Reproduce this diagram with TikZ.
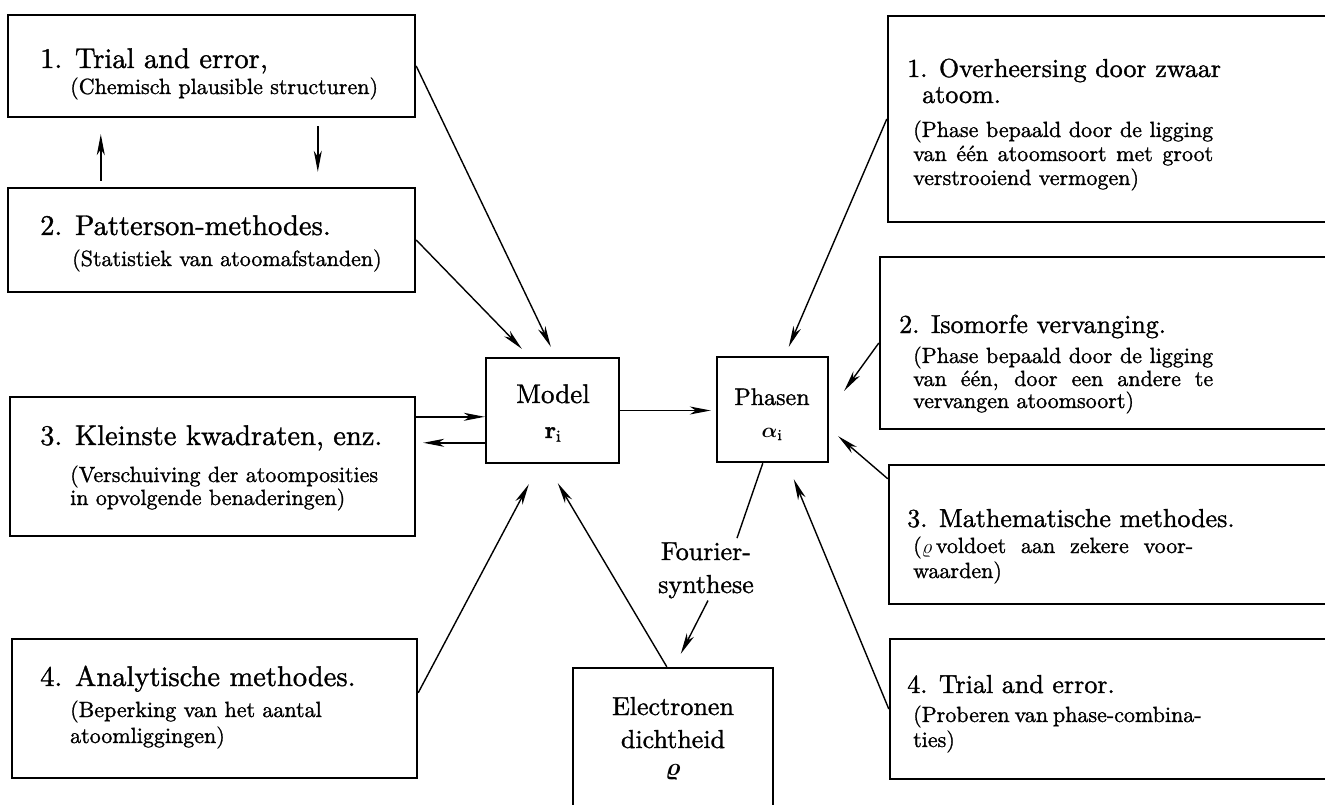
\documentclass[tikz,border=0pt]{standalone}
\usepackage{bm}
\usepackage{fontspec}
\setmainfont{lmroman10-regular.otf}[BoldFont=lmroman10-bold.otf,ItalicFont=lmroman10-italic.otf,FakeBold=1.2]
\usetikzlibrary{arrows.meta,fit}
\tikzset{
  box/.style={draw, line width=2.4pt, inner sep=0pt},
  conn/.style={line width=1.4pt, -{Stealth[length=21pt,width=8pt,inset=6pt]}},
  plainline/.style={line width=1.4pt},
  head/.style={anchor=base west, inner sep=0pt, font=\fontsize{28.5}{32}\selectfont},
  rhead/.style={anchor=base west, inner sep=0pt, font=\fontsize{26}{30}\selectfont},
  subtxt/.style={anchor=base west, inner sep=0pt, font=\fontsize{22}{25}\selectfont},
  ctr/.style={anchor=base, inner sep=0pt, font=\fontsize{26}{30}\selectfont},
}
\newcommand{\jl}[2]{\makebox[#1][s]{#2}}
\begin{document}
\begin{tikzpicture}[x=1pt,y=-1pt]
\useasboundingbox (0,0) rectangle (1325,805);
\clip (0,0) rectangle (1325,805);
\fill[white] (0,0) rectangle (1325,805);

% left boxes
\node[box, fit={(8,15)(415,117)}] (L1) {};
\node[box, fit={(8,188)(415,292)}] (L2) {};
\node[box, fit={(10,397)(415,536)}] (L3) {};
\node[box, fit={(12,639)(417,778)}] (L4) {};
% centre boxes
\node[box, fit={(486,358)(619,463)}] (M) {};
\node[box, fit={(717,357)(828,462)}] (P) {};
\node[box, fit={(573,668)(773,840)}] (E) {};
% right boxes
\node[box, fit={(888,16)(1345,222)}] (R1) {};
\node[box, fit={(880,257)(1345,429)}] (R2) {};
\node[box, fit={(889,465)(1345,604)}] (R3) {};
\node[box, fit={(890,639)(1345,779)}] (R4) {};

% left texts
\node[head] (L1a) at (40,68) {1. Trial and error,};
\node[subtxt] (L1b) at (70,94) {(Chemisch plausible structuren)};
\node[head] (L2a) at (40,235) {2. Patterson-methodes.};
\node[subtxt] (L2b) at (72,266) {(Statistiek van atoomafstanden)};
\node[head] (L3a) at (40,445) {3. Kleinste kwadraten, enz.};
\node[subtxt] (L3b) at (70,482) {(Verschuiving der atoomposities};
\node[subtxt] (L3c) at (70,505) {in opvolgende benaderingen)};
\node[head] (L4a) at (40,686) {4. Analytische methodes.};
\node[subtxt] (L4b) at (70,717) {(Beperking van het aantal};
\node[subtxt] (L4c) at (70,743) {atoomliggingen)};

% right texts
\node[rhead] (R1a) at (907,77) {1. Overheersing door zwaar};
\node[rhead] (R1b) at (922,103) {atoom.};
\node[subtxt] (R1c) at (913,137) {\jl{300pt}{(Phase bepaald door de ligging}};
\node[subtxt] (R1d) at (913,161) {\jl{300pt}{van één atoomsoort met groot}};
\node[subtxt] (R1e) at (913,185) {verstrooiend vermogen)};
\node[rhead] (R2a) at (899,333) {2. Isomorfe vervanging.};
\node[subtxt] (R2b) at (913,363) {\jl{300pt}{(Phase bepaald door de ligging}};
\node[subtxt] (R2c) at (913,386) {\jl{300pt}{van één, door een andere te}};
\node[subtxt] (R2d) at (913,408) {vervangen atoomsoort)};
\node[rhead] (R3a) at (907,527) {3. Mathematische methodes.};
\node[subtxt] (R3b) at (913,553) {\jl{280pt}{($\varrho$\,voldoet aan zekere voor-}};
\node[subtxt] (R3c) at (913,578) {waarden)};
\node[rhead] (R4a) at (907,693) {4. Trial and error.};
\node[subtxt] (R4b) at (913,722) {\jl{280pt}{(Proberen van phase-combina-}};
\node[subtxt] (R4c) at (913,747) {ties)};

% centre texts
\node[ctr, font=\fontsize{27}{30}\selectfont] (Mt) at (553,403) {Model};
\node[ctr, font=\fontsize{24}{26}\selectfont] (Mr) at (553,438) {$\mathbf{r}_{\mathrm{i}}$};
\node[ctr, font=\fontsize{24}{28}\selectfont] (Pt) at (772,405) {Phasen};
\node[ctr, font=\fontsize{22}{24}\selectfont] (Pa) at (772,437) {$\bm{\alpha}_{\mathrm{i}}$};
\node[ctr] (Et1) at (673,715) {Electronen};
\node[ctr] (Et2) at (673,748) {dichtheid};
\node[ctr, font=\fontsize{26}{28}\selectfont] (Et3) at (673,775) {$\bm{\varrho}$};
\node[ctr] (F1) at (706,560) {Fourier-};
\node[ctr] (F2) at (706,593) {synthese};

% connectors, left side
\draw[conn] ([xshift=94pt,yshift=6pt]L2.north west) -- ([xshift=94pt,yshift=-16pt]L1.south west);
\draw[conn] ([xshift=311pt,yshift=-8pt]L1.south west) -- ([xshift=311pt,yshift=15pt]L2.north west);
\draw[conn] (L1.east) -- ([xshift=66pt,yshift=10pt]M.north west);
\draw[conn] (L2.east) -- ([xshift=37pt,yshift=8pt]M.north west);
\draw[conn] ([yshift=-21pt]L3.north east) -- ([yshift=-60pt]M.north west);
\draw[conn, shorten >=7pt] ([yshift=-86pt]M.north west) -- ([yshift=-86pt]M.north west -| L3.east);
\draw[conn] ([yshift=-55pt]L4.north east) -- ([xshift=44pt,yshift=-20pt]M.south west);
\draw[conn] ([xshift=95pt]E.north west) -- ([xshift=73pt,yshift=-19pt]M.south west);
\draw[conn, shorten >=5pt] (M.east) -- (M.east -| P.west);
% connectors, right side
\draw[conn] (R1.west) -- ([xshift=73pt,yshift=9pt]P.north west);
\draw[conn] (R2.west) -- ([xshift=15pt,yshift=-35pt]P.north east);
\draw[conn] ([yshift=-15pt]R3.north west) -- ([xshift=9pt,yshift=27pt]P.south east);
\draw[conn] (R4.west) -- ([xshift=78pt,yshift=-16pt]P.south west);
% Fourier synthesis
\draw[plainline] ([xshift=47pt]P.south west) -- ([xshift=31pt,yshift=4pt]F1.north);
\draw[conn] ([xshift=2pt,yshift=-2pt]F2.south) -- ([xshift=109pt,yshift=13pt]E.north west);
\end{tikzpicture}
\end{document}
